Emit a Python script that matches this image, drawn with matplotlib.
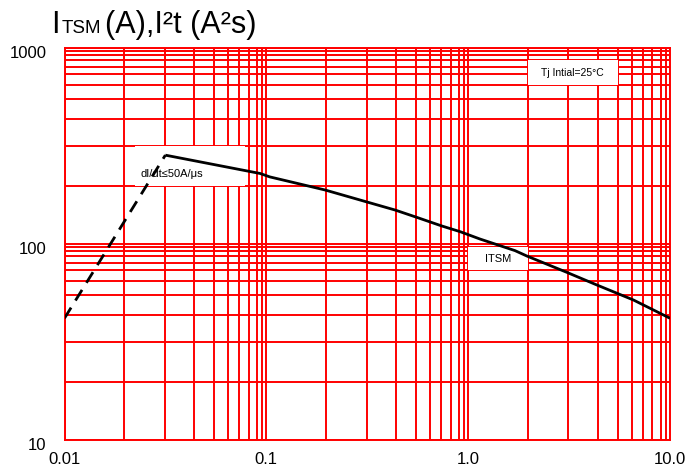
import numpy as np
import matplotlib
matplotlib.use('Agg')
import matplotlib.pyplot as plt
from matplotlib.patches import Rectangle
from matplotlib.transforms import ScaledTranslation

# ============================================
# Data
# ============================================
# surge current vs pulse time (solid curve)
itsm_t = [0.0316, 0.0931, 0.104, 0.1955, 0.314, 0.435, 0.556, 0.74, 0.912,
          1.145, 1.707, 1.95, 3.08, 4.34, 6.59, 10.0]
itsm_a = [284, 229, 220, 188.6, 164, 149, 136.8, 123.6, 115.6,
          106, 92.5, 86.9, 71.7, 61.8, 51.8, 41.8]

# dI/dt limited rise (dashed)
didt_t = [0.01, 0.0316]
didt_a = [41.8, 284]

x_ticks = [0.01, 0.1, 1.0, 10.0]
x_tick_labels = ['0.01', '0.1', '1.0', '10.0']
y_ticks = [10, 100, 1000]
y_tick_labels = ['10', '100', '1000']

# the datasheet grid is not a true log grid: fractions of a decade
x_grid_frac = [0.294, 0.497, 0.641, 0.743, 0.81, 0.864, 0.913, 0.953, 0.98]
y_grid_frac = [0.295, 0.5, 0.64, 0.74, 0.812, 0.868, 0.904, 0.938, 0.962, 0.983]

FONT = ['Liberation Sans', 'DejaVu Sans']
RED = '#ff0000'


def grid_values(decades, fracs):
    return [10 ** (d + f) for d in decades for f in fracs]


def label_box(ax, x0, x1, y0, y1, text, size, pos=None):
    ax.add_patch(Rectangle((x0, y0), x1 - x0, y1 - y0, facecolor='white',
                           edgecolor='none', zorder=2.5))
    if pos is None:
        ax.text(np.sqrt(x0 * x1), np.sqrt(y0 * y1), text, ha='center', va='center',
                fontsize=size, family=FONT, color='black', zorder=4)
    else:
        ax.text(pos[0], pos[1], text, ha='left', va='center',
                fontsize=size, family=FONT, color='black', zorder=2.8)


plt.rcParams['font.family'] = FONT
fig = plt.figure(figsize=(6.9, 4.68), dpi=100)
ax = fig.add_axes([64.5 / 690, 1 - 440 / 468, (670 - 64.5) / 690, (440 - 48) / 468])

ax.set_xscale('log')
ax.set_yscale('log')
ax.set_xlim(0.01, 10)
ax.set_ylim(10, 1000)

ax.set_xticks(x_ticks)
ax.set_xticklabels(x_tick_labels)
ax.set_yticks(y_ticks)
ax.set_yticklabels(y_tick_labels)
ax.set_xticks(grid_values([-2, -1, 0], x_grid_frac), minor=True)
ax.set_yticks(grid_values([1, 2], y_grid_frac), minor=True)
ax.xaxis.set_minor_formatter(plt.NullFormatter())
ax.yaxis.set_minor_formatter(plt.NullFormatter())
ax.tick_params(which='both', length=0)
ax.tick_params(axis='x', pad=9, labelsize=12)
ax.tick_params(axis='y', pad=13, labelsize=12)
for lab in ax.get_yticklabels():
    lab.set_transform(lab.get_transform() + ScaledTranslation(0, -3 / 72, fig.dpi_scale_trans))

ax.grid(which='both', color=RED, linewidth=1.4)
ax.set_axisbelow(True)
for sp in ax.spines.values():
    sp.set_color(RED)
    sp.set_linewidth(1.4)

# curves
ax.plot(itsm_t, itsm_a, color='black', linewidth=2, zorder=3, solid_capstyle='butt')
ax.plot(didt_t, didt_a, color='black', linewidth=2, zorder=3, dashes=(4.5, 3))

# label boxes aligned with the grid
label_box(ax, 0.0223, 0.0784, 10 ** (2 + y_grid_frac[0]), 10 ** (2 + y_grid_frac[1]),
          'dI/dt≤50A/μs', 8, pos=(0.0239, 227))
label_box(ax, 1.0, 10 ** x_grid_frac[0], 10 ** (1 + y_grid_frac[5]), 10 ** (1 + y_grid_frac[9]),
          'ITSM', 8)
label_box(ax, 10 ** x_grid_frac[0], 10 ** x_grid_frac[3], 10 ** (2 + y_grid_frac[4]),
          10 ** (2 + y_grid_frac[7]), 'Tj Intial=25°C', 7.5)

# title: I with small TSM
base_y = 1 - 33 / 468
fig.text(51 / 690, base_y, 'I', fontsize=22, va='baseline', ha='left')
fig.text(62 / 690, base_y, 'TSM', fontsize=13.5, va='baseline', ha='left')
fig.text(105 / 690, base_y, '(A),I²t (A²s)', fontsize=22, va='baseline', ha='left')

fig.savefig('out.png', dpi=100)
